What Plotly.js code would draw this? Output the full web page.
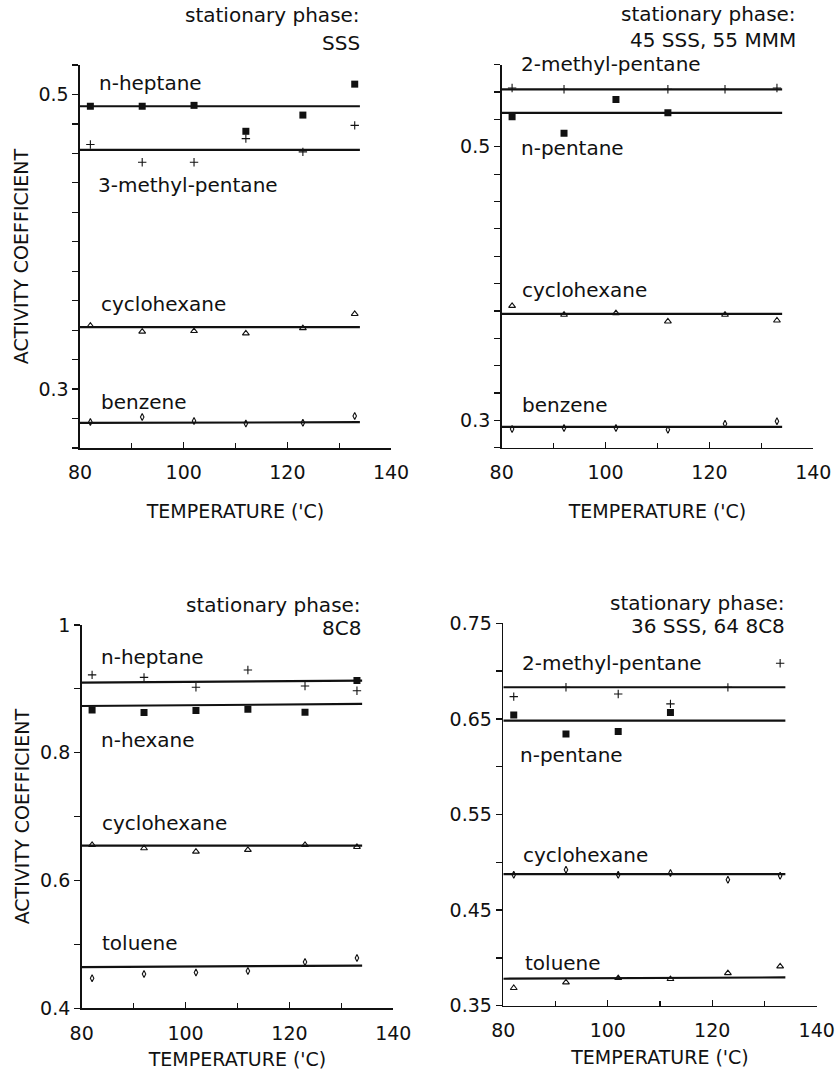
<!DOCTYPE html>
<html>
<head>
<meta charset="utf-8">
<script src="https://cdn.plot.ly/plotly-3.0.1.min.js"></script>
<style>html,body{margin:0;padding:0;background:#fff;}#chart{width:839px;height:1085px;}</style>
</head>
<body>
<div id="chart"></div>
<script>
// ---------- data ----------
const temps = [82, 92, 102, 112, 123, 133];
const fitX = [80, 134];

// Panel A: stationary phase SSS
const sssHeptane        = [0.492, 0.492, 0.4926, 0.475, 0.486, 0.507];
const sssMethylPentane3 = [0.466, 0.454, 0.454, 0.470, 0.461, 0.479];
const sssCyclohexane    = [0.343, 0.339, 0.3394, 0.3378, 0.3414, 0.351];
const sssBenzene        = [0.2777, 0.2811, 0.2784, 0.2766, 0.2772, 0.2818];
const sssHeptaneFit        = [0.492, 0.492];
const sssMethylPentane3Fit = [0.4624, 0.4624];
const sssCyclohexaneFit    = [0.342, 0.342];
const sssBenzeneFit        = [0.277, 0.2775];

// Panel B: stationary phase 45 SSS, 55 MMM
const mmmMethylPentane2 = [0.543, 0.542, null, 0.542, 0.542, 0.543];
const mmmPentane        = [0.5219, 0.5098, 0.5346, 0.5248, null, null];
const mmmCyclohexane    = [0.3837, 0.3772, 0.3784, 0.3723, 0.3772, 0.373];
const mmmBenzene        = [0.2937, 0.2944, 0.2944, 0.2932, 0.2976, 0.2993];
const mmmMethylPentane2Fit = [0.542, 0.542];
const mmmPentaneFit        = [0.5248, 0.5248];
const mmmCyclohexaneFit    = [0.3779, 0.3779];
const mmmBenzeneFit        = [0.2952, 0.2952];

// Panel C: stationary phase 8C8
const c8Heptane     = [0.922, 0.918, 0.9025, 0.9296, 0.9045, 0.897];
const c8Hexane      = [0.867, 0.863, 0.866, 0.868, 0.8635, 0.913];
const c8Cyclohexane = [0.6557, 0.6505, 0.6453, 0.648, 0.6557, 0.6526];
const c8Toluene     = [0.447, 0.4538, 0.456, 0.4585, 0.4726, 0.4789];
const c8HeptaneFit     = [0.9097, 0.9128];
const c8HexaneFit      = [0.8732, 0.8764];
const c8CyclohexaneFit = [0.6546, 0.6546];
const c8TolueneFit     = [0.4644, 0.4669];

// Panel D: stationary phase 36 SSS, 64 8C8
const mixMethylPentane2 = [0.6733, 0.6831, 0.6761, 0.6657, 0.683, 0.7082];
const mixPentane        = [0.6542, 0.6343, 0.6368, 0.6566, null, null];
const mixCyclohexane    = [0.4869, 0.4922, 0.4869, 0.4887, 0.4817, 0.4859];
const mixToluene        = [0.3685, 0.3744, 0.3789, 0.3779, 0.3841, 0.3911];
const mixMethylPentane2Fit = [0.6831, 0.6831];
const mixPentaneFit        = [0.6483, 0.6483];
const mixCyclohexaneFit    = [0.4876, 0.4876];
const mixTolueneFit        = [0.3782, 0.3796];

// tick labels
const xTicks = [80, 100, 120, 140];
const yTicksA = [0.3, 0.5];
const yTicksB = [0.3, 0.5];
const yTicksC = [0.4, 0.6, 0.8, 1];
const yTicksC_text = ['0.4', '0.6', '0.8', '1'];
const yTicksD = [0.35, 0.45, 0.55, 0.65, 0.75];

// ---------- styling ----------
const FONT = 'DejaVu Sans, Arial, sans-serif';
const INK = '#111';
const SYM = {
  square:   {symbol: 'square', size: 7, color: INK, line: {width: 0}},
  plus:     {symbol: 'cross-thin-open', size: 6, color: INK, line: {width: 1.1, color: INK}},
  triangle: {symbol: 'triangle-up-open', size: 6, color: INK, line: {width: 1.1, color: INK}},
  diamond:  {symbol: 'diamond-tall-open', size: 5, color: INK, line: {width: 1.1, color: INK}}
};

const traces = [];
function series(name, vals, fit, sym, ax) {
  traces.push({x: temps, y: vals, type: 'scatter', mode: 'markers', name: name,
    marker: SYM[sym], xaxis: 'x' + ax, yaxis: 'y' + ax, showlegend: false, hoverinfo: 'x+y'});
  traces.push({x: fitX, y: fit, type: 'scatter', mode: 'lines', name: name + ' fit',
    line: {color: INK, width: 2.2}, xaxis: 'x' + ax, yaxis: 'y' + ax, showlegend: false, hoverinfo: 'skip'});
}
series('n-heptane', sssHeptane, sssHeptaneFit, 'square', '');
series('3-methyl-pentane', sssMethylPentane3, sssMethylPentane3Fit, 'plus', '');
series('cyclohexane', sssCyclohexane, sssCyclohexaneFit, 'triangle', '');
series('benzene', sssBenzene, sssBenzeneFit, 'diamond', '');

series('2-methyl-pentane', mmmMethylPentane2, mmmMethylPentane2Fit, 'plus', '2');
series('n-pentane', mmmPentane, mmmPentaneFit, 'square', '2');
series('cyclohexane', mmmCyclohexane, mmmCyclohexaneFit, 'triangle', '2');
series('benzene', mmmBenzene, mmmBenzeneFit, 'diamond', '2');

series('n-heptane', c8Heptane, c8HeptaneFit, 'plus', '3');
series('n-hexane', c8Hexane, c8HexaneFit, 'square', '3');
series('cyclohexane', c8Cyclohexane, c8CyclohexaneFit, 'triangle', '3');
series('toluene', c8Toluene, c8TolueneFit, 'diamond', '3');

series('2-methyl-pentane', mixMethylPentane2, mixMethylPentane2Fit, 'plus', '4');
series('n-pentane', mixPentane, mixPentaneFit, 'square', '4');
series('cyclohexane', mixCyclohexane, mixCyclohexaneFit, 'diamond', '4');
series('toluene', mixToluene, mixTolueneFit, 'triangle', '4');

const W = 839, H = 1085;
const px = v => v / W;
const py = v => 1 - v / H;

function xAxis(d0, d1, anchor, standoff) {
  return {
    domain: [px(d0), px(d1)], range: [80, 140], anchor: anchor,
    showline: true, linecolor: INK, linewidth: 1.6, mirror: false,
    showgrid: false, zeroline: false,
    tickmode: 'array', tickvals: xTicks, ticktext: xTicks.map(String),
    ticks: 'inside', ticklen: 6, tickwidth: 1.4, tickcolor: INK,
    ticklabelstandoff: 7,
    minor: {tickmode: 'linear', tick0: 80, dtick: 10, ticks: 'inside', ticklen: 5, tickwidth: 1.2, tickcolor: INK, showgrid: false},
    tickfont: {family: FONT, size: 19, color: INK},
    title: {text: "TEMPERATURE ('C)", font: {family: FONT, size: 19, color: INK}, standoff: standoff},
    automargin: false, fixedrange: true
  };
}
function yAxis(d0, d1, anchor, range, vals, text, minorStep, withTitle) {
  return {
    domain: [py(d0), py(d1)], range: range, anchor: anchor,
    showline: true, linecolor: INK, linewidth: 1.6,
    showgrid: false, zeroline: false,
    tickmode: 'array', tickvals: vals, ticktext: text,
    ticks: 'outside', ticklen: 6, tickwidth: 1.3, tickcolor: INK,
    minor: {tickmode: 'linear', tick0: range[0], dtick: minorStep, ticks: 'outside', ticklen: 6, tickwidth: 1.2, tickcolor: INK, showgrid: false},
    tickfont: {family: FONT, size: 19, color: INK},
    title: withTitle ? {text: 'ACTIVITY COEFFICIENT', font: {family: FONT, size: 19, color: INK}, standoff: 5} : {text: ''},
    automargin: false, fixedrange: true
  };
}

const ann = [];
function label(text, x, y, anchor) {
  ann.push({text: text, xref: 'paper', yref: 'paper', x: px(x), y: py(y),
    xanchor: anchor || 'left', yanchor: 'middle', showarrow: false,
    font: {family: FONT, size: 20, color: INK}});
}
// panel titles (stationary phase)
label('stationary phase:', 362, 15, 'right');
label('SSS', 362, 43, 'right');
label('stationary phase:', 798, 14, 'right');
label('45 SSS, 55 MMM', 798, 40, 'right');
label('stationary phase:', 363, 605, 'right');
label('8C8', 363, 628, 'right');
label('stationary phase:', 787, 603, 'right');
label('36 SSS, 64 8C8', 787, 626, 'right');
// series labels
label('n-heptane', 97, 83);
label('3-methyl-pentane', 96, 185);
label('cyclohexane', 99, 304);
label('benzene', 99, 402);
label('2-methyl-pentane', 519, 64);
label('n-pentane', 519, 148);
label('cyclohexane', 520, 290);
label('benzene', 520, 405);
label('n-heptane', 99, 657);
label('n-hexane', 99, 740);
label('cyclohexane', 100, 823);
label('toluene', 100, 943);
label('2-methyl-pentane', 520, 663);
label('n-pentane', 518, 755);
label('cyclohexane', 521, 855);
label('toluene', 523, 963);

const layout = {
  width: W, height: H,
  margin: {l: 0, r: 0, t: 0, b: 0},
  paper_bgcolor: '#fff', plot_bgcolor: '#fff',
  showlegend: false,
  font: {family: FONT, color: INK},
  xaxis:  xAxis(80, 391, 'y', 22),
  yaxis:  yAxis(448, 65, 'x', [0.26, 0.52], yTicksA, ['0.3', '0.5'], 0.02, true),
  xaxis2: xAxis(501.7, 813.3, 'y2', 22),
  yaxis2: yAxis(447.7, 64.7, 'x2', [0.28, 0.56], yTicksB, ['0.3', '0.5'], 0.02, false),
  xaxis3: xAxis(81.7, 393.3, 'y3', 10),
  yaxis3: yAxis(1008.3, 625, 'x3', [0.4, 1.0], yTicksC, yTicksC_text, 0.1, true),
  xaxis4: xAxis(503.3, 816.7, 'y4', 10),
  yaxis4: yAxis(1005.7, 623.3, 'x4', [0.35, 0.75], yTicksD, yTicksD.map(v => v.toFixed(2)), 0.05, false),
  annotations: ann
};

Plotly.newPlot('chart', traces, layout, {staticPlot: true, displayModeBar: false});
</script>
</body>
</html>
